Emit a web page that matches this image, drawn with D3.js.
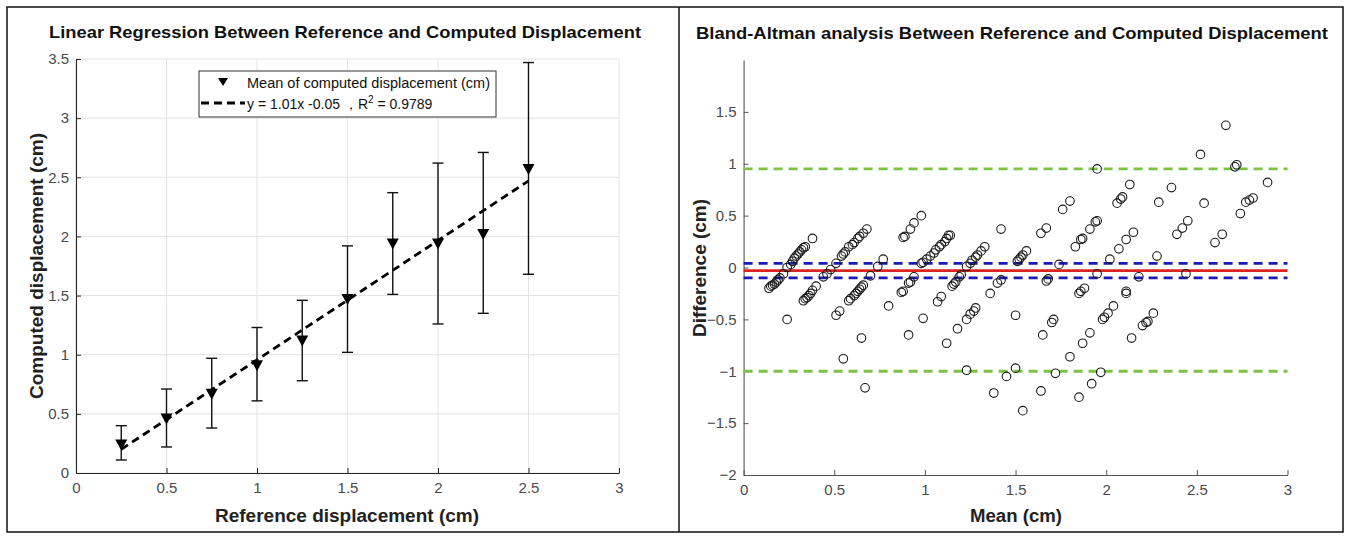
<!DOCTYPE html>
<html>
<head>
<meta charset="utf-8">
<script src="https://cdn.jsdelivr.net/npm/d3@7"></script>
<style>
  body { margin: 0; background: #fff; }
  svg { display: block; font-family: "Liberation Sans", Arial, Helvetica, sans-serif; }
</style>
</head>
<body>
<svg id="chart" width="1349" height="538"></svg>
<script>
// ---- left panel: linear regression ----
var refDisp = [0.25, 0.5, 0.75, 1.0, 1.25, 1.5, 1.75, 2.0, 2.25, 2.5];
var meanComputed = [0.24, 0.46, 0.67, 0.91, 1.12, 1.47, 1.94, 1.94, 2.02, 2.57];
var errLow = [0.11, 0.22, 0.38, 0.61, 0.78, 1.02, 1.51, 1.26, 1.35, 1.68];
var errHigh = [0.40, 0.71, 0.97, 1.23, 1.46, 1.92, 2.37, 2.62, 2.71, 3.47];
// fitted line end points (y = 1.01x - 0.05)
var fitX = [0.25, 2.5];
var fitY = [0.20, 2.47];
var xTicksLeft = [0, 0.5, 1, 1.5, 2, 2.5, 3];
var yTicksLeft = [0, 0.5, 1, 1.5, 2, 2.5, 3, 3.5];

// ---- right panel: Bland-Altman, [mean, difference] ----
var baPoints = [
    // ref 0.25
    [0.14,-0.20],[0.15,-0.18],[0.16,-0.17],[0.17,-0.16],[0.18,-0.14],[0.19,-0.12],[0.20,-0.10],[0.22,-0.06],
    [0.24,0.00],[0.26,0.03],[0.27,0.06],[0.28,0.09],[0.29,0.11],[0.30,0.13],[0.31,0.15],[0.32,0.17],
    [0.33,0.19],[0.34,0.20],[0.38,0.28],
    // ref 0.5
    [0.24,-0.50],[0.33,-0.32],[0.34,-0.30],[0.35,-0.29],[0.36,-0.27],[0.37,-0.25],[0.38,-0.22],[0.40,-0.18],
    [0.44,-0.09],[0.46,-0.06],[0.48,-0.02],[0.51,0.04],[0.54,0.11],[0.55,0.13],[0.56,0.15],[0.58,0.20],
    [0.60,0.22],[0.61,0.24],[0.63,0.28],[0.64,0.30],[0.66,0.33],[0.68,0.37],
    // ref 0.75
    [0.51,-0.46],[0.53,-0.42],[0.58,-0.32],[0.59,-0.30],[0.61,-0.27],[0.62,-0.25],[0.63,-0.23],[0.64,-0.21],
    [0.65,-0.19],[0.66,-0.17],[0.70,-0.08],[0.74,0.01],[0.77,0.08],[0.88,0.29],[0.89,0.30],[0.92,0.37],
    [0.94,0.43],[0.98,0.50],
    // ref 1.0
    [0.55,-0.88],[0.65,-0.68],[0.80,-0.37],[0.87,-0.24],[0.88,-0.23],[0.91,-0.15],[0.92,-0.14],[0.94,-0.09],
    [0.98,0.04],[0.99,0.05],[1.01,0.08],[1.03,0.11],[1.05,0.14],[1.06,0.17],[1.08,0.20],[1.09,0.22],
    [1.11,0.25],[1.12,0.28],[1.13,0.31],[1.14,0.31],
    // ref 1.25
    [0.67,-1.16],[0.91,-0.65],[0.99,-0.49],[1.07,-0.33],[1.09,-0.28],[1.15,-0.18],[1.16,-0.16],[1.17,-0.14],
    [1.19,-0.09],[1.20,-0.07],[1.23,0.01],[1.25,0.04],[1.26,0.07],[1.28,0.10],[1.29,0.12],[1.31,0.16],
    [1.33,0.20],[1.42,0.37],
    // ref 1.5
    [1.12,-0.73],[1.18,-0.59],[1.23,-0.50],[1.25,-0.45],[1.27,-0.42],[1.28,-0.39],[1.36,-0.25],[1.40,-0.15],
    [1.42,-0.12],[1.51,0.06],[1.52,0.08],[1.53,0.10],[1.54,0.12],[1.56,0.16],[1.64,0.33],[1.67,0.38],
    // ref 1.75
    [1.23,-0.99],[1.50,-0.46],[1.65,-0.65],[1.68,-0.11],[1.67,-0.13],[1.71,-0.50],[1.70,-0.53],[1.74,0.03],
    [1.76,0.56],[1.80,0.64],
    // ref 2.0
    [1.38,-1.21],[1.45,-1.05],[1.50,-0.97],[1.64,-1.19],[1.72,-1.02],[1.80,-0.86],[1.83,0.20],[1.86,0.27],
    [1.87,0.28],[1.91,0.37],[1.94,0.44],[1.95,0.45],[1.95,0.95],[1.85,-0.25],[1.86,-0.23],[1.88,-0.20],
    [1.95,-0.06],
    // ref 2.25
    [1.54,-1.38],[1.85,-1.25],[1.87,-0.73],[1.91,-0.63],[1.92,-1.12],[1.97,-1.01],[1.98,-0.50],[1.99,-0.48],
    [2.01,-0.44],[2.04,-0.37],[2.02,0.08],[2.07,0.18],[2.11,0.27],[2.15,0.34],[2.06,0.62],[2.08,0.66],
    [2.09,0.68],[2.13,0.80],[2.11,-0.23],[2.11,-0.25],[2.18,-0.09],
    // ref 2.5
    [2.14,-0.68],[2.20,-0.56],[2.22,-0.53],[2.23,-0.52],[2.26,-0.44],[2.28,0.11],[2.29,0.63],[2.36,0.77],
    [2.39,0.32],[2.42,0.38],[2.45,0.45],[2.44,-0.06],[2.52,1.09],[2.54,0.62],[2.60,0.24],[2.64,0.32],
    [2.66,1.37],[2.71,0.97],[2.72,0.99],[2.74,0.52],[2.77,0.63],[2.79,0.65],[2.81,0.67],[2.89,0.82]
];
var meanDiff = -0.03;
var ciLines = [0.04, -0.10];
var loaLines = [0.95, -1.00];
var xTicksRight = [0, 0.5, 1, 1.5, 2, 2.5, 3];
var yTicksRight = [-2, -1.5, -1, -0.5, 0, 0.5, 1, 1.5];

var svg = d3.select("#chart");

// outer frame + divider between the two panels
svg.append("rect").attr("x", 7).attr("y", 7).attr("width", 1336).attr("height", 525)
    .attr("fill", "#fff").attr("stroke", "#111").attr("stroke-width", 1.5);
svg.append("line").attr("x1", 679).attr("x2", 679).attr("y1", 7).attr("y2", 532)
    .attr("stroke", "#111").attr("stroke-width", 1.5);

function styleAxis(g, col) {
    g.selectAll("path.domain").attr("stroke", col).attr("stroke-width", 1.1);
    g.selectAll(".tick line").attr("stroke", col);
    g.selectAll(".tick text").attr("fill", "#4a4a4a").attr("font-size", 15)
        .attr("font-family", "Liberation Sans, Arial, sans-serif");
}

// ================= left panel =================
var xL = d3.scaleLinear().domain([0, 3]).range([76, 619]);
var yL = d3.scaleLinear().domain([0, 3.5]).range([473, 59]);

var left = svg.append("g");

// grid
left.append("g").selectAll("line.gx").data(xTicksLeft).join("line")
    .attr("x1", d => xL(d)).attr("x2", d => xL(d)).attr("y1", yL(0)).attr("y2", yL(3.5))
    .attr("stroke", "#e3e3e3").attr("stroke-width", 1);
left.append("g").selectAll("line.gy").data(yTicksLeft).join("line")
    .attr("x1", xL(0)).attr("x2", xL(3)).attr("y1", d => yL(d)).attr("y2", d => yL(d))
    .attr("stroke", "#e3e3e3").attr("stroke-width", 1);

var gxL = left.append("g").attr("transform", "translate(0," + yL(0) + ")")
    .call(d3.axisBottom(xL).tickValues(xTicksLeft).tickSizeInner(-5).tickSizeOuter(0).tickPadding(9).tickFormat(d3.format("")));
styleAxis(gxL, "#262626");
var gyL = left.append("g").attr("transform", "translate(" + xL(0) + ",0)")
    .call(d3.axisLeft(yL).tickValues(yTicksLeft).tickSizeInner(-5).tickSizeOuter(0).tickPadding(7).tickFormat(d3.format("")));
styleAxis(gyL, "#262626");

// regression line
left.append("line")
    .attr("x1", xL(fitX[0])).attr("y1", yL(fitY[0]))
    .attr("x2", xL(fitX[1])).attr("y2", yL(fitY[1]))
    .attr("stroke", "#000").attr("stroke-width", 2.8).attr("stroke-dasharray", "8,5");

// error bars
var bars = left.append("g").selectAll("g").data(refDisp).join("g");
bars.append("line")
    .attr("x1", d => xL(d)).attr("x2", d => xL(d))
    .attr("y1", (d, i) => yL(errLow[i])).attr("y2", (d, i) => yL(errHigh[i]))
    .attr("stroke", "#111").attr("stroke-width", 1.4);
bars.append("line")
    .attr("x1", d => xL(d) - 5.5).attr("x2", d => xL(d) + 5.5)
    .attr("y1", (d, i) => yL(errLow[i])).attr("y2", (d, i) => yL(errLow[i]))
    .attr("stroke", "#111").attr("stroke-width", 1.4);
bars.append("line")
    .attr("x1", d => xL(d) - 5.5).attr("x2", d => xL(d) + 5.5)
    .attr("y1", (d, i) => yL(errHigh[i])).attr("y2", (d, i) => yL(errHigh[i]))
    .attr("stroke", "#111").attr("stroke-width", 1.4);

// down triangles
function triPath(cx, cy) {
    return "M" + (cx - 6) + "," + (cy - 5) + "L" + (cx + 6) + "," + (cy - 5) + "L" + cx + "," + (cy + 6) + "Z";
}
bars.append("path")
    .attr("d", (d, i) => triPath(xL(d), yL(meanComputed[i])))
    .attr("fill", "#000");

// legend
var leg = left.append("g");
leg.append("rect").attr("x", 199).attr("y", 71).attr("width", 297).attr("height", 46)
    .attr("fill", "#fff").attr("stroke", "#333").attr("stroke-width", 1);
leg.append("path").attr("d", "M218,78L228,78L223,86Z").attr("fill", "#000");
leg.append("text").attr("x", 247).attr("y", 88).attr("font-size", 14).attr("fill", "#111")
    .attr("textLength", 243).attr("lengthAdjust", "spacingAndGlyphs")
    .text("Mean of computed displacement (cm)");
leg.append("line").attr("x1", 201).attr("x2", 245).attr("y1", 103).attr("y2", 103)
    .attr("stroke", "#000").attr("stroke-width", 2.8).attr("stroke-dasharray", "8,5");
var lt = leg.append("text").attr("x", 247).attr("y", 109).attr("font-size", 14).attr("fill", "#111");
lt.append("tspan").text("y = 1.01x -0.05 ，R");
lt.append("tspan").attr("dy", -6).attr("font-size", 10).text("2");
lt.append("tspan").attr("dy", 6).text(" = 0.9789");

// titles / labels
left.append("text").attr("x", 345).attr("y", 38).attr("text-anchor", "middle")
    .attr("font-size", 17).attr("font-weight", "bold").attr("fill", "#111")
    .attr("textLength", 592).attr("lengthAdjust", "spacingAndGlyphs")
    .text("Linear Regression Between Reference and Computed Displacement");
left.append("text").attr("x", 347).attr("y", 522).attr("text-anchor", "middle")
    .attr("font-size", 18).attr("font-weight", "bold").attr("fill", "#222")
    .attr("textLength", 264).attr("lengthAdjust", "spacingAndGlyphs")
    .text("Reference displacement (cm)");
left.append("text").attr("transform", "translate(43,266) rotate(-90)").attr("text-anchor", "middle")
    .attr("font-size", 18).attr("font-weight", "bold").attr("fill", "#222")
    .attr("textLength", 266).attr("lengthAdjust", "spacingAndGlyphs")
    .text("Computed displacement (cm)");

// ================= right panel =================
var xR = d3.scaleLinear().domain([0, 3]).range([743.6, 1287.5]);
var yR = d3.scaleLinear().domain([-2, 2]).range([475, 60]);

var right = svg.append("g");

var gxR = right.append("g").attr("transform", "translate(0," + yR(-2) + ")")
    .call(d3.axisBottom(xR).tickValues(xTicksRight).tickSizeInner(-5).tickSizeOuter(0).tickPadding(9).tickFormat(d3.format("")));
styleAxis(gxR, "#555");
var gyR = right.append("g").attr("transform", "translate(" + xR(0) + ",0)")
    .call(d3.axisLeft(yR).tickValues(yTicksRight).tickSizeInner(-5).tickSizeOuter(0).tickPadding(7).tickFormat(d3.format("")));
styleAxis(gyR, "#555");

// limits of agreement (green), CI of bias (blue), bias (red)
right.append("g").selectAll("line").data(loaLines).join("line")
    .attr("x1", xR(0)).attr("x2", xR(3)).attr("y1", d => yR(d)).attr("y2", d => yR(d))
    .attr("stroke", "#7cc242").attr("stroke-width", 2.8).attr("stroke-dasharray", "9,6");
right.append("g").selectAll("line").data(ciLines).join("line")
    .attr("x1", xR(0)).attr("x2", xR(3)).attr("y1", d => yR(d)).attr("y2", d => yR(d))
    .attr("stroke", "#1a1ab8").attr("stroke-width", 2.8).attr("stroke-dasharray", "9,6");
right.append("line")
    .attr("x1", xR(0)).attr("x2", xR(3)).attr("y1", yR(meanDiff)).attr("y2", yR(meanDiff))
    .attr("stroke", "#dd2222").attr("stroke-width", 2.8);

// circles
right.append("g").selectAll("circle").data(baPoints).join("circle")
    .attr("cx", d => xR(d[0])).attr("cy", d => yR(d[1])).attr("r", 4.3)
    .attr("fill", "none").attr("stroke", "#1a1a1a").attr("stroke-width", 1.1);

right.append("text").attr("x", 1012).attr("y", 39).attr("text-anchor", "middle")
    .attr("font-size", 17).attr("font-weight", "bold").attr("fill", "#111")
    .attr("textLength", 632).attr("lengthAdjust", "spacingAndGlyphs")
    .text("Bland-Altman analysis Between Reference and Computed Displacement");
right.append("text").attr("x", 1016).attr("y", 522).attr("text-anchor", "middle")
    .attr("font-size", 18).attr("font-weight", "bold").attr("fill", "#222")
    .attr("textLength", 92).attr("lengthAdjust", "spacingAndGlyphs")
    .text("Mean (cm)");
right.append("text").attr("transform", "translate(706,268) rotate(-90)").attr("text-anchor", "middle")
    .attr("font-size", 18).attr("font-weight", "bold").attr("fill", "#222")
    .attr("textLength", 138).attr("lengthAdjust", "spacingAndGlyphs")
    .text("Difference (cm)");
</script>
</body>
</html>
